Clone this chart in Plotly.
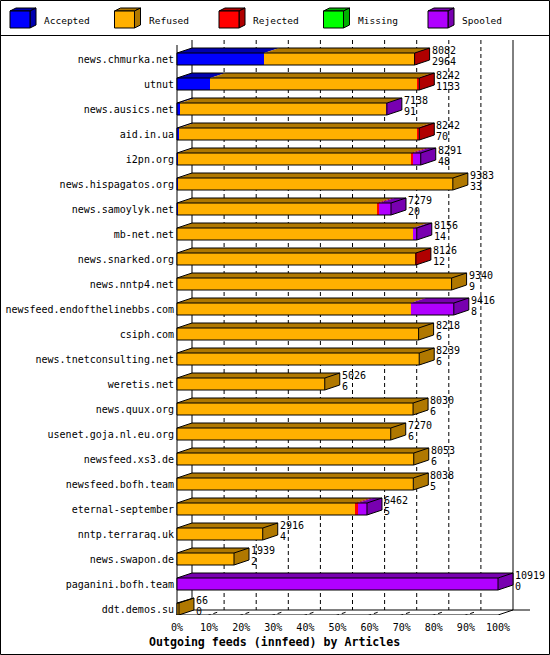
import plotly.graph_objects as go

# ---------------- data ----------------
feeds = ["news.chmurka.net", "utnut", "news.ausics.net", "aid.in.ua", "i2pn.org",
         "news.hispagatos.org", "news.samoylyk.net", "mb-net.net", "news.snarked.org",
         "news.nntp4.net", "newsfeed.endofthelinebbs.com", "csiph.com",
         "news.tnetconsulting.net", "weretis.net", "news.quux.org", "usenet.goja.nl.eu.org",
         "newsfeed.xs3.de", "newsfeed.bofh.team", "eternal-september", "nntp.terraraq.uk",
         "news.swapon.de", "paganini.bofh.team", "ddt.demos.su"]
offered = [8082, 8242, 7138, 8242, 8291, 9383, 7279, 8156, 8126, 9340, 9416, 8218,
           8239, 5026, 8030, 7270, 8053, 8038, 6462, 2916, 1939, 10919, 66]
accepted = [2964, 1133, 91, 70, 48, 33, 20, 14, 12, 9, 8, 6, 6, 6, 6, 6, 6, 5, 5, 4, 2, 0, 0]
refused = [5098, 7049, 7027, 8082, 7899, 9350, 6773, 8022, 8104, 9331, 7942, 8212,
           8233, 5020, 8024, 7264, 8047, 8033, 6053, 2912, 1937, 0, 66]
rejected = [20, 60, 0, 90, 89, 0, 91, 0, 10, 0, 0, 0, 0, 0, 0, 0, 0, 0, 90, 0, 0, 0, 0]
missing = [0, 0, 0, 0, 0, 0, 0, 0, 0, 0, 0, 0, 0, 0, 0, 0, 0, 0, 0, 0, 0, 0, 0]
spooled = [0, 0, 20, 0, 255, 0, 395, 120, 0, 0, 1466, 0, 0, 0, 0, 0, 0, 0, 314, 0, 0, 10919, 0]

series_names = ["Accepted", "Refused", "Rejected", "Missing", "Spooled"]
front_colors = ["#0000FF", "#FFB000", "#FF0000", "#00FF00", "#B000FF"]
dark_colors = ["#0000B0", "#B07800", "#B00000", "#00B000", "#7800B0"]
tick_pcts = [0, 10, 20, 30, 40, 50, 60, 70, 80, 90, 100]
tick_labels = ["0%", "10%", "20%", "30%", "40%", "50%", "60%", "70%", "80%", "90%", "100%"]
title_text = "Outgoing feeds (innfeed) by Articles"

# ---------------- geometry ----------------
W, H = 550, 655
PX_PER_PCT = 3.21
X0_PX = 177
ROW_PX = 25
ROW0_PX = 59
FLOOR_PX = 615
TOP_PX = 36
HALF = 6 / ROW_PX
DX = 15 / PX_PER_PCT
DY = 5 / ROW_PX
MONO = "DejaVu Sans Mono"

n = len(feeds)
series = [accepted, refused, rejected, missing, spooled]
scale_max = max(offered)
pct = [[v / scale_max * 100 for v in s] for s in series]
rows = list(range(n))

fig = go.Figure()

# front faces
for k, name in enumerate(series_names):
    fig.add_trace(go.Bar(y=rows, x=pct[k], orientation="h", width=2 * HALF,
                         marker=dict(color=front_colors[k], line=dict(width=0)),
                         name=name, showlegend=False, hoverinfo="skip"))

# top and side faces
polys = {k: ([], []) for k in range(5)}
ox, oy = [], []
ends = []
for i in range(n):
    yt, yb = i - HALF, i + HALF
    cum, last = 0.0, 1
    for k in range(5):
        w = pct[k][i]
        if w <= 0:
            continue
        x0, x1 = cum, cum + w
        px, py = polys[k]
        px += [x0, x1, x1 + DX, x0 + DX, x0, None]
        py += [yt, yt, yt - DY, yt - DY, yt, None]
        cum, last = x1, k
    px, py = polys[last]
    px += [cum, cum + DX, cum + DX, cum, cum, None]
    py += [yt, yt - DY, yb - DY, yb, yt, None]
    ends.append(cum)
    ox += [0, cum, cum, 0, 0, None]
    oy += [yt, yt, yb, yb, yt, None]
    ox += [0, DX, cum + DX, cum + DX, cum, None]
    oy += [yt, yt - DY, yt - DY, yb - DY, yb, None]
    ox += [cum, cum + DX, None]
    oy += [yt, yt - DY, None]

for k in range(5):
    px, py = polys[k]
    if not px:
        continue
    fig.add_trace(go.Scatter(x=px, y=py, mode="lines", fill="toself",
                             fillcolor=dark_colors[k], line=dict(width=0, color=dark_colors[k]),
                             showlegend=False, hoverinfo="skip"))
fig.add_trace(go.Scatter(x=ox, y=oy, mode="lines", line=dict(color="black", width=1),
                         showlegend=False, hoverinfo="skip"))

# value labels
annotations = []
for i in range(n):
    for txt, ys in ((str(offered[i]), 9), (str(accepted[i]), -2)):
        annotations.append(dict(x=ends[i], y=i, xref="x", yref="y", text=txt,
                                showarrow=False, xanchor="left", yanchor="middle",
                                xshift=15, yshift=ys,
                                font=dict(family=MONO, size=10, color="black")))

# frame
floor_y = (FLOOR_PX - ROW0_PX) / ROW_PX
top_front = (45 - ROW0_PX) / ROW_PX
top_back = top_front - DY
back_floor = floor_y - DY
shapes = []
line = dict(color="black", width=1)
dline = dict(color="black", width=1, dash="4px,3px")
for p in tick_pcts[1:-1]:
    shapes.append(dict(type="line", xref="x", yref="y", x0=p + DX, x1=p + DX,
                       y0=top_back, y1=back_floor, line=dline, layer="below"))
    shapes.append(dict(type="line", xref="x", yref="y", x0=p - DX * 0.6, x1=p + DX * 0.6,
                       y0=floor_y + DY * 0.6, y1=floor_y - DY * 0.6, line=dline, layer="below"))
shapes += [
    dict(type="line", xref="x", yref="y", x0=0, x1=0, y0=top_front, y1=floor_y, line=line, layer="below"),
    dict(type="line", xref="x", yref="y", x0=DX, x1=DX, y0=top_back, y1=back_floor, line=line, layer="below"),
    dict(type="line", xref="x", yref="y", x0=100 + DX, x1=100 + DX, y0=top_back, y1=back_floor, line=line, layer="below"),
    dict(type="line", xref="x", yref="y", x0=0, x1=100, y0=floor_y, y1=floor_y, line=line, layer="below"),
    dict(type="line", xref="x", yref="y", x0=DX, x1=(530 - X0_PX) / PX_PER_PCT, y0=back_floor, y1=back_floor, line=line, layer="below"),
    dict(type="line", xref="x", yref="y", x0=-DX, x1=DX, y0=floor_y + DY, y1=back_floor, line=line, layer="below"),
    dict(type="line", xref="x", yref="y", x0=100, x1=100 + DX, y0=floor_y, y1=back_floor, line=line, layer="below"),
]


def P(x, y):
    return x / W, 1 - y / H


# outer border and legend separator
shapes.append(dict(type="rect", xref="paper", yref="paper", x0=0.5 / W, x1=1 - 0.5 / W,
                   y0=0.5 / H, y1=1 - 0.5 / H, line=line))
shapes.append(dict(type="line", xref="paper", yref="paper", x0=0, x1=1,
                   y0=1 - 35.5 / H, y1=1 - 35.5 / H, line=line))


def path(pts):
    return "M " + " L ".join("%f,%f" % P(a, b) for a, b in pts) + " Z"


# legend
for k, name in enumerate(series_names):
    bx = 10 + 104.5 * k
    x0, x1, y0, y1 = bx, bx + 20, 11, 28
    ddx, ddy = 6, 3
    shapes.append(dict(type="path", xref="paper", yref="paper",
                       path=path([(x0, y0), (x1, y0), (x1 + ddx, y0 - ddy), (x0 + ddx, y0 - ddy)]),
                       fillcolor=dark_colors[k], line=line))
    shapes.append(dict(type="path", xref="paper", yref="paper",
                       path=path([(x1, y0), (x1 + ddx, y0 - ddy), (x1 + ddx, y1 - ddy), (x1, y1)]),
                       fillcolor=dark_colors[k], line=line))
    shapes.append(dict(type="path", xref="paper", yref="paper",
                       path=path([(x0, y0), (x1, y0), (x1, y1), (x0, y1)]),
                       fillcolor=front_colors[k], line=line))
    tx, ty = P(bx + 32, 20)
    annotations.append(dict(x=tx, y=ty, xref="paper", yref="paper", text=name,
                            showarrow=False, xanchor="left", yanchor="middle",
                            font=dict(family=MONO, size=9.5, color="black")))

tx, ty = P(274, 642)
annotations.append(dict(x=tx, y=ty, xref="paper", yref="paper", text="<b>" + title_text + "</b>",
                        showarrow=False, xanchor="center", yanchor="middle",
                        font=dict(family=MONO, size=11.6, color="black")))

fig.update_layout(
    width=W, height=H, margin=dict(l=0, r=0, t=0, b=0),
    paper_bgcolor="white", plot_bgcolor="white",
    barmode="stack", bargap=0, showlegend=False,
    xaxis=dict(domain=[0, 1], range=[(0 - X0_PX) / PX_PER_PCT, (W - X0_PX) / PX_PER_PCT],
               tickvals=tick_pcts, ticktext=tick_labels, ticks="", showgrid=False,
               zeroline=False, showline=False, ticklabelstandoff=5,
               tickfont=dict(family=MONO, size=10, color="black")),
    yaxis=dict(domain=[1 - FLOOR_PX / H, 1 - TOP_PX / H],
               range=[(FLOOR_PX - ROW0_PX) / ROW_PX, (TOP_PX - ROW0_PX) / ROW_PX],
               anchor="free", position=X0_PX / W, tickvals=rows, ticktext=feeds,
               ticks="", showgrid=False, zeroline=False, showline=False,
               ticklabelstandoff=3,
               tickfont=dict(family=MONO, size=10, color="black")),
    shapes=shapes, annotations=annotations,
)

fig.write_html("out.html", config={"displayModeBar": False},
               post_script="document.body.style.margin='0';")
